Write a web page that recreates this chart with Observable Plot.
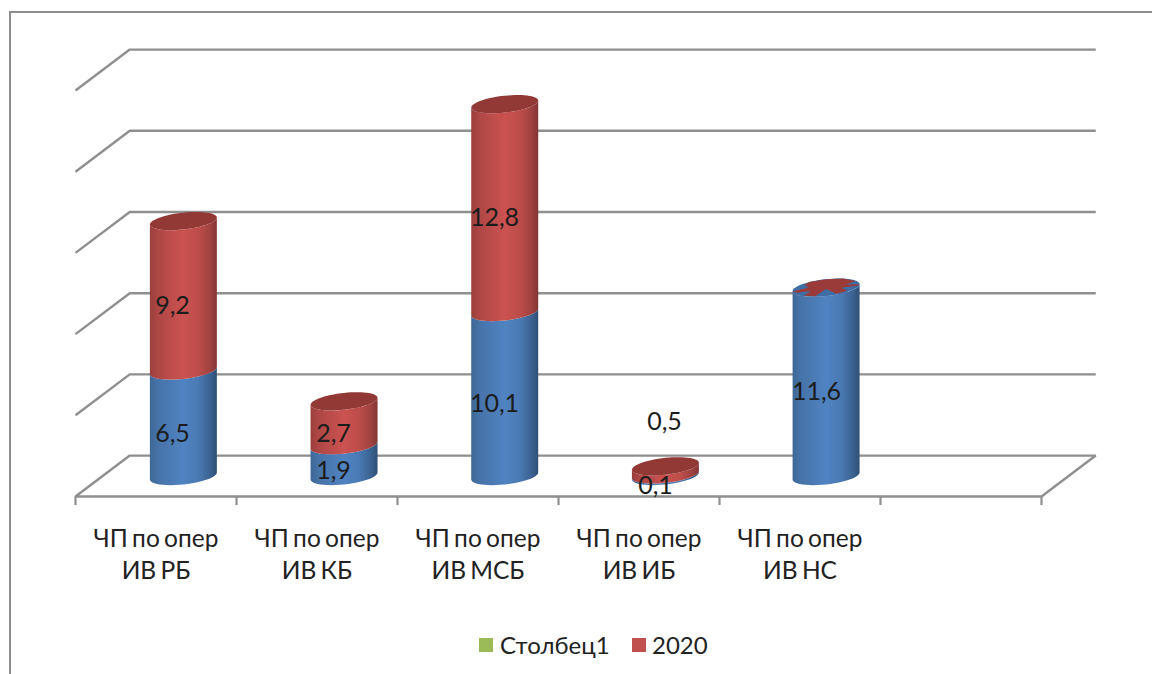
<!DOCTYPE html>
<html><head><meta charset="utf-8">
<script src="https://cdn.jsdelivr.net/npm/d3@7"></script>
<script src="https://cdn.jsdelivr.net/npm/@observablehq/plot@0.6"></script>
<style>
html,body{margin:0;padding:0;background:#fff;overflow:hidden}
#page{position:relative;width:1152px;height:674px;overflow:hidden;font-family:Lato,"Noto Sans",sans-serif;color:#222}
#frame{position:absolute;left:9px;top:11px;right:-5px;bottom:-5px;border:2.5px solid #8e8e8e}
#legend{position:absolute;left:0;top:0;width:100%;height:100%;pointer-events:none}
.sw{position:absolute;width:14px;height:14px;top:638px}
.lb{position:absolute;top:631px;font-size:24px;line-height:28px;white-space:nowrap}
svg{position:absolute;left:0;top:0;background:transparent!important}
</style></head><body>
<div id="page"><div id="frame"></div></div>
<script>
const categories = ["ЧП по опер\nИВ РБ","ЧП по опер\nИВ КБ","ЧП по опер\nИВ МСБ","ЧП по опер\nИВ ИБ","ЧП по опер\nИВ НС"];
const seriesBlue = [6.5, 1.9, 10.1, 0.1, 11.6];
const seriesRed  = [9.2, 2.7, 12.8, 0.5, 0];
const gridValues = [0, 5, 10, 15, 20, 25];
const xTicks = [0, 1, 2, 3, 4, 5, 6];
const legendNames = ["Столбец1", "2020"];
const legendColors = ["#9BBB59", "#C0504D"];
// z-fighting flecks on the last cylinder's top: angle (deg), radius fraction
const fleckAngles = [0, 12, 25, 60, 90, 120, 140, 150, 165, 180, 195, 205, 225, 250, 270, 290, 315, 335, 350];
const fleckRadii  = [1, .6, .98, 1, 1, 1, .85, .6, .65, 1, .9, .5, .95, .95, .15, .9, .9, .5, .95];

// 3D projection, in scale units
const depthX = 0.337, depthY = 2.52, rx = 0.208, ry = 0.52, tilt = 0.2155;
const fmt = v => v.toFixed(1).replace(".", ",");
const theta = d3.range(0, 25).map(k => Math.PI + Math.PI * k / 24);
const cx = i => i + 0.5 + 0.17 - 0.002 * i;
const cy = v => v + depthY / 2;
const front = (i, v, t) => ({x: cx(i) + rx * Math.cos(t), y: cy(v) + ry * Math.sin(t) + tilt * Math.cos(t)});
const body = (i, v0, v1) => [...theta.map(t => front(i, v0, t)), ...theta.slice().reverse().map(t => front(i, v1, t))].map(p => ({...p, key: i}));
const cap = (i, v) => d3.range(0, 61).map(k => front(i, v, 2 * Math.PI * k / 60)).map(p => ({...p, key: i}));

const blueBodies = categories.flatMap((c, i) => body(i, 0, seriesBlue[i]));
const redBodies = categories.flatMap((c, i) => seriesRed[i] > 0 ? body(i, seriesBlue[i], seriesBlue[i] + seriesRed[i]) : []);
const redCaps = categories.flatMap((c, i) => seriesRed[i] > 0 ? cap(i, seriesBlue[i] + seriesRed[i]) : []);
const blueCaps = categories.flatMap((c, i) => seriesRed[i] > 0 ? [] : cap(i, seriesBlue[i]));
const fleck = fleckAngles.map((a, k) => {
  const t = a * Math.PI / 180, r = fleckRadii[k], v = seriesBlue[4];
  return {x: cx(4) + r * rx * Math.cos(t), y: cy(v) + r * ry * Math.sin(t) + r * tilt * Math.cos(t)};
});
const gridLines = gridValues.flatMap(v => [
  {x: 0, y: v, v}, {x: depthX, y: v + depthY, v}, {x: 6 + depthX, y: v + depthY, v},
  ...(v === 0 ? [{x: 6, y: 0, v}, {x: 0, y: 0, v}] : [])
]);
const labelDX = 0.1025, labelDY = 0.62;
const blueLabels = seriesBlue.map((v, i) => ({x: i + .5 + labelDX, y: v / 2 + labelDY, t: fmt(v)}));
const redLabels = seriesRed.map((v, i) => ({x: i + .5 + labelDX, y: seriesBlue[i] + v / 2 + labelDY, t: fmt(v), i})).filter(d => seriesRed[d.i] > 0);
const gridColor = "#8f8f8f";
const font = 'Lato,"Noto Sans",sans-serif';

const plot = Plot.plot({
  width: 1152, height: 674,
  marginLeft: 75, marginRight: 111, marginTop: 90, marginBottom: 178,
  x: {domain: [0, 6], axis: null},
  y: {domain: [0, 25], axis: null},
  style: {fontFamily: font, background: "transparent", wordSpacing: "-2px"},
  marks: [
    () => {
      const ns = "http://www.w3.org/2000/svg";
      const defs = document.createElementNS(ns, "defs");
      const grad = (id, stops) => {
        const g = document.createElementNS(ns, "linearGradient");
        g.setAttribute("id", id);
        stops.forEach(([o, c]) => {
          const s = document.createElementNS(ns, "stop");
          s.setAttribute("offset", o); s.setAttribute("stop-color", c);
          g.appendChild(s);
        });
        defs.appendChild(g);
      };
      grad("gBlue", [[0, "#3d6796"], [.12, "#4673a8"], [.5, "#5083c2"], [.72, "#4a7ab4"], [.9, "#3a6290"], [1, "#2f4f75"]]);
      grad("gRed", [[0, "#9a3f3d"], [.12, "#ae4745"], [.5, "#cb5250"], [.72, "#bd4d4a"], [.9, "#a04240"], [1, "#823533"]]);
      return defs;
    },
    Plot.line(gridLines, {x: "x", y: "y", z: "v", stroke: gridColor, strokeWidth: 2.4, strokeLinejoin: "miter", strokeLinecap: "butt"}),
    Plot.axisX({ticks: xTicks, tickSize: 9, tickFormat: () => "", stroke: gridColor, strokeWidth: 2.2, label: null}),
    Plot.line(blueBodies, {x: "x", y: "y", z: "key", fill: "url(#gBlue)", stroke: "none"}),
    Plot.line(redBodies, {x: "x", y: "y", z: "key", fill: "url(#gRed)", stroke: "none"}),
    Plot.line(redCaps, {x: "x", y: "y", z: "key", fill: "#923936", stroke: "none"}),
    Plot.line(blueCaps, {x: "x", y: "y", z: "key", fill: "#3f6ea6", stroke: "none"}),
    Plot.line(fleck, {x: "x", y: "y", fill: "#9a3b3a", stroke: "none"}),
    Plot.text(blueLabels, {x: "x", y: "y", text: "t", fontSize: 25, fill: "#1c1c1c"}),
    Plot.text(redLabels.filter(d => d.i !== 3), {x: "x", y: "y", text: "t", fontSize: 25, fill: "#1c1c1c"}),
    Plot.text(redLabels.filter(d => d.i === 3), {x: "x", y: "y", text: "t", fontSize: 25, fill: "#1c1c1c", dx: 9, dy: -59}),
    Plot.text(categories, {x: (d, i) => i + .5, y: () => 0, text: d => d, fontSize: 24.5, fill: "#222", lineAnchor: "top", lineHeight: 1.31, dy: 28})
  ]
});
const page = document.getElementById("page");
page.appendChild(plot);
const legend = document.createElement("div");
legend.id = "legend";
const swX = [479, 632], lbX = [500, 652];
legendNames.forEach((n, i) => {
  const s = document.createElement("div"); s.className = "sw";
  s.style.left = swX[i] + "px"; s.style.background = legendColors[i];
  const l = document.createElement("div"); l.className = "lb";
  l.style.left = lbX[i] + "px"; l.textContent = n;
  legend.append(s, l);
});
page.appendChild(legend);
</script>
</body></html>
